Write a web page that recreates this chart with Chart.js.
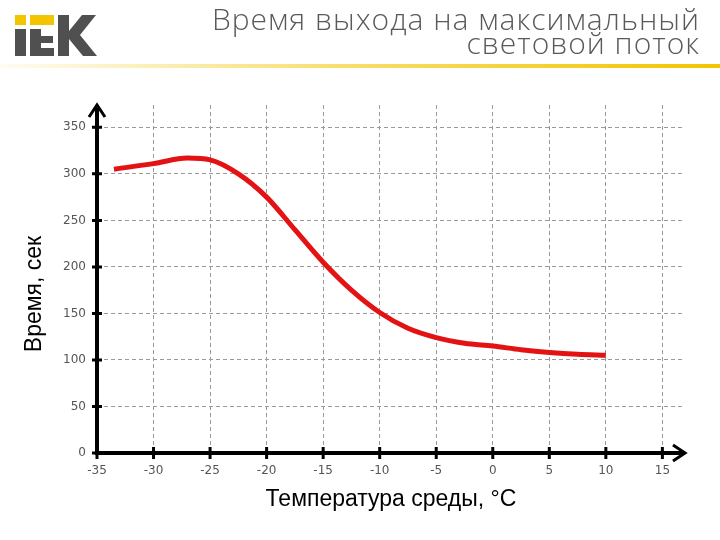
<!DOCTYPE html>
<html><head><meta charset="utf-8">
<script src="https://cdn.jsdelivr.net/npm/chart.js@4"></script>
<style>html,body{margin:0;padding:0;background:#fff}#c{position:absolute;left:0;top:0}</style>
</head><body>
<canvas id="c" width="720" height="540"></canvas>
<script>
const temps = [-33.5,-30,-27,-25,-22.5,-20,-17.5,-15,-12.5,-10,-7.5,-5,-2.5,0,2.5,5,7.5,10];
const times = [305,311,317,315,300,275,240,205,175,151,134,124,118,115,111,108,106,105];
const xTicks = [-35,-30,-25,-20,-15,-10,-5,0,5,10,15];
const yTicks = [0,50,100,150,200,250,300,350];
const titleLines = ['Время выхода на максимальный','световой поток'];
const xTitle = 'Температура среды, °C';
const yTitle = 'Время, сек';

const deco = {
  id:'deco',
  beforeDraw(c){
    const g=c.ctx;
    g.save();
    g.fillStyle='#f2c500';
    g.fillRect(15,15,11,10); g.fillRect(30,15,24,10);
    g.fillStyle='#505050';
    g.fillRect(15,29,11,27);
    g.fillRect(30,29,11,27); g.fillRect(41,36,12,7); g.fillRect(41,48,13,8);
    g.beginPath(); g.moveTo(58,15);g.lineTo(69,15);g.lineTo(69,31);g.lineTo(82,15);g.lineTo(96,15);g.lineTo(80,35);g.lineTo(97,56);g.lineTo(83,56);g.lineTo(69,39);g.lineTo(69,56);g.lineTo(58,56);g.closePath();g.fill();
    g.fillStyle='#5a5a5a'; g.font='300 30px "Open Sans"'; g.letterSpacing='1px'; g.textAlign='right'; g.textBaseline='middle';
    g.fillText(titleLines[0],700,21); g.fillText(titleLines[1],700,45);
    g.letterSpacing='0px';
    const gr=g.createLinearGradient(0,0,720,0);
    gr.addColorStop(0,'rgba(242,197,0,0.05)'); gr.addColorStop(0.5,'rgba(242,197,0,0.6)'); gr.addColorStop(1,'rgba(242,197,0,1)');
    g.fillStyle=gr; g.fillRect(0,64,720,4);
    g.restore();
  },
  afterDatasetsDraw(c){
    const g=c.ctx, xs=c.scales.x, ys=c.scales.y;
    const x0=xs.getPixelForValue(-35), y0=ys.getPixelForValue(0);
    const right=c.chartArea.right, top=c.chartArea.top;
    g.save();
    g.strokeStyle='#000'; g.lineWidth=4; g.lineCap='butt';
    g.beginPath(); g.moveTo(x0,y0); g.lineTo(right-2,y0); g.moveTo(x0,y0+2); g.lineTo(x0,top+2); g.stroke();
    g.lineWidth=3;
    g.beginPath(); g.moveTo(x0-8,top+12); g.lineTo(x0,top); g.lineTo(x0+8,top+12);
    g.moveTo(right-12,y0-8); g.lineTo(right,y0); g.lineTo(right-12,y0+8); g.stroke();
    g.beginPath();
    xTicks.forEach(v=>{const p=xs.getPixelForValue(v); g.moveTo(p,y0-6); g.lineTo(p,y0+6);});
    yTicks.forEach(v=>{const p=ys.getPixelForValue(v); g.moveTo(x0-5,p); g.lineTo(x0+5,p);});
    g.stroke();
    g.fillStyle='#000'; g.font='23px "Liberation Sans"'; g.textAlign='center'; g.textBaseline='middle';
    g.fillText(xTitle,391,500);
    g.translate(35,294); g.rotate(-Math.PI/2); g.fillText(yTitle,0,0);
    g.restore();
  }
};

new Chart(document.getElementById('c'),{
  type:'line',
  data:{datasets:[{data:temps.map((t,i)=>({x:t,y:times[i]})),borderColor:'#e41313',borderWidth:5,pointRadius:0,cubicInterpolationMode:'monotone',fill:false}]},
  options:{
    responsive:false,animation:false,
    layout:{padding:{top:105,right:35,left:0,bottom:0}},
    plugins:{legend:{display:false},tooltip:{enabled:false}},
    scales:{
      x:{type:'linear',min:-35,max:17,
        afterFit(s){s.height=87;},
        afterBuildTicks(s){s.ticks=xTicks.map(v=>({value:v}));},
        grid:{color:'#9a9a9a',drawTicks:false,lineWidth:c=>c.tick&&c.tick.value===-35?0:1},
        border:{display:false,dash:[4,3]},
        ticks:{color:'#555',font:{family:'DejaVu Sans',size:12},padding:11,maxRotation:0}},
      y:{min:0,max:374,
        afterFit(s){s.width=97;},
        afterBuildTicks(s){s.ticks=yTicks.map(v=>({value:v}));},
        grid:{color:'#9a9a9a',drawTicks:false,lineWidth:c=>c.tick&&c.tick.value===0?0:1},
        border:{display:false,dash:[4,3]},
        ticks:{color:'#555',font:{family:'DejaVu Sans',size:12},padding:11}}
    }
  },
  plugins:[deco]
});
</script></body></html>
